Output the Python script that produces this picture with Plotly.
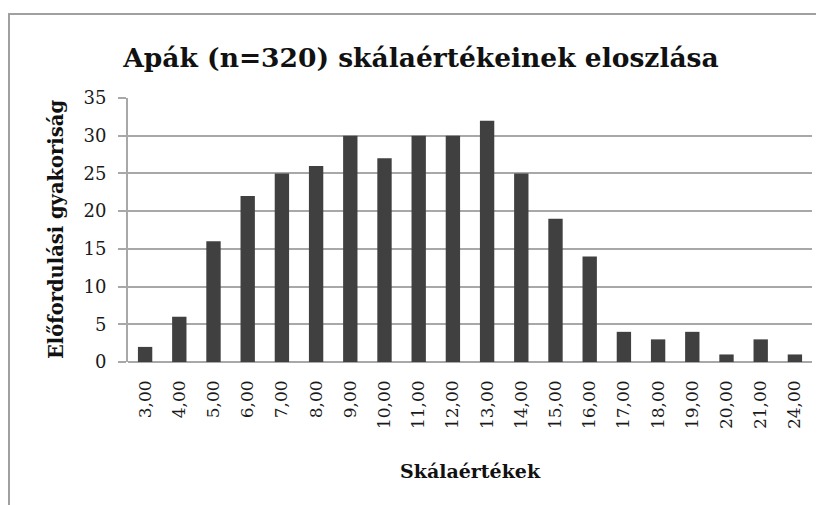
import plotly.graph_objects as go

categories = ["3,00", "4,00", "5,00", "6,00", "7,00", "8,00", "9,00", "10,00", "11,00", "12,00",
              "13,00", "14,00", "15,00", "16,00", "17,00", "18,00", "19,00", "20,00", "21,00", "24,00"]
frequencies = [2, 6, 16, 22, 25, 26, 30, 27, 30, 30, 32, 25, 19, 14, 4, 3, 4, 1, 3, 1]
y_ticks = [0, 5, 10, 15, 20, 25, 30, 35]

OFF = 8  # page body margin
W, H = 824 - OFF, 505 - OFF
L, R, T, B = 128 - OFF, 12, 98 - OFF, 505 - 362
pw, ph = W - L - R, H - T - B

def px_x(x):
    return (x - OFF - L) / pw

def px_y(y):
    return 1 - (y - OFF - T) / ph

serif = "DejaVu Serif"

fig = go.Figure(go.Bar(x=categories, y=frequencies, marker=dict(color="#404040", line=dict(width=0)),
                       width=0.42))

fig.update_layout(
    width=W, height=H,
    margin=dict(l=L, r=R, t=T, b=B),
    paper_bgcolor="white", plot_bgcolor="white",
    font=dict(family=serif, color="#1a1a1a", size=17),
    showlegend=False,
    title=dict(text="<b>Apák (n=320) skálaértékeinek eloszlása</b>", x=(421 - OFF) / W, xanchor="center",
               y=1 - (58 - OFF) / H, yanchor="middle", font=dict(family=serif, size=26.5, color="#111111")),
)
fig.update_xaxes(type="category", tickangle=-90, showgrid=False, showline=False, ticks="",
                 ticklabelstandoff=14,
                 tickfont=dict(family=serif, size=17, color="#1a1a1a"), zeroline=False)
fig.update_yaxes(range=[0, 35], tickvals=y_ticks, showgrid=True, gridcolor="#a8a8a8", gridwidth=2,
                 showline=True, linecolor="#a8a8a8", linewidth=2, ticks="outside", ticklen=8,
                 tickcolor="#a8a8a8", tickwidth=2, zeroline=True, zerolinecolor="#a8a8a8",
                 zerolinewidth=2, ticklabelstandoff=8,
                 tickfont=dict(family=serif, size=18, color="#1a1a1a"))

fig.add_annotation(text="<b>Előfordulási gyakoriság</b>", xref="paper", yref="paper",
                   x=px_x(56), y=px_y(230), xanchor="center", yanchor="middle",
                   textangle=-90, showarrow=False,
                   font=dict(family=serif, size=19.5, color="#111111"))
fig.add_annotation(text="<b>Skálaértékek</b>", xref="paper", yref="paper",
                   x=px_x(470), y=px_y(471), xanchor="center", yanchor="middle", showarrow=False,
                   font=dict(family=serif, size=19, color="#111111"))

# chart frame
fig.add_shape(type="line", xref="paper", yref="paper", x0=px_x(8), x1=px_x(824), y0=px_y(14), y1=px_y(14),
              line=dict(color="#a0a0a0", width=2))
fig.add_shape(type="line", xref="paper", yref="paper", x0=px_x(9), x1=px_x(9), y0=px_y(14), y1=px_y(505),
              line=dict(color="#a0a0a0", width=2))

fig.write_html("out.html")
